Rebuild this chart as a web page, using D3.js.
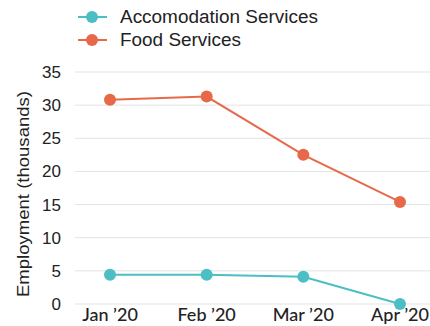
<!DOCTYPE html>
<html><head><meta charset="utf-8">
<script src="https://cdn.jsdelivr.net/npm/d3@7"></script>
<style>body{margin:0;background:#fff}svg{display:block}</style>
</head><body>
<svg id="c" width="430" height="326"></svg>
<script>
const months = ["Jan ’20","Feb ’20","Mar ’20","Apr ’20"];
const accomodation = [4.4, 4.4, 4.1, 0];
const food = [30.8, 31.3, 22.5, 15.4];
const yTicks = [0,5,10,15,20,25,30,35];
const seriesNames = ["Accomodation Services","Food Services"];
const colors = ["#4bbfc4","#e8694a"];

const svg = d3.select("#c");
const x = d3.scalePoint().domain(months).range([110, 400]);
const y = d3.scaleLinear().domain([0,35]).range([304, 72]);

// grid
svg.append("g").selectAll("line").data(yTicks).join("line")
  .attr("x1",75).attr("x2",430).attr("y1",d=>y(d)).attr("y2",d=>y(d))
  .attr("stroke","#e3e3e3").attr("stroke-width",1);

// y labels
svg.append("g").selectAll("text").data(yTicks).join("text")
  .attr("x",61).attr("y",d=>y(d)).attr("dy","0.35em").attr("text-anchor","end")
  .attr("font-family","Liberation Sans, Arial, sans-serif").attr("font-size",17).attr("fill","#222")
  .text(d=>d);

// x labels
svg.append("g").selectAll("text").data(months).join("text")
  .attr("x",d=>x(d)).attr("y",321).attr("text-anchor","middle")
  .attr("font-family","Lato, sans-serif").attr("font-size",18).attr("font-weight",500).attr("fill","#222")
  .text(d=>d);

// y title
svg.append("text").attr("transform","translate(29,194) rotate(-90)")
  .attr("text-anchor","middle").attr("font-family","Liberation Sans, Arial, sans-serif")
  .attr("font-size",17).attr("fill","#222")
  .attr("textLength",206).attr("lengthAdjust","spacingAndGlyphs")
  .text("Employment (thousands)");

const data = [accomodation, food];
const line = d3.line().x((d,i)=>x(months[i])).y(d=>y(d));
data.forEach((s,k)=>{
  svg.append("path").datum(s).attr("d",line).attr("fill","none")
    .attr("stroke",colors[k]).attr("stroke-width",2);
  svg.append("g").selectAll("circle").data(s).join("circle")
    .attr("cx",(d,i)=>x(months[i])).attr("cy",d=>y(d)).attr("r",6).attr("fill",colors[k]);
});

// legend
const legendLen = [198, 121];
const lg = svg.append("g").selectAll("g").data(seriesNames).join("g")
  .attr("transform",(d,i)=>`translate(0,${17+i*23})`);
lg.append("line").attr("x1",78).attr("x2",107).attr("stroke",(d,i)=>colors[i]).attr("stroke-width",2);
lg.append("circle").attr("cx",92).attr("r",6).attr("fill",(d,i)=>colors[i]);
lg.append("text").attr("x",120).attr("dy","0.35em").attr("font-family","Liberation Sans, Arial, sans-serif")
  .attr("font-size",18).attr("fill","#222")
  .attr("textLength",(d,i)=>legendLen[i]).attr("lengthAdjust","spacingAndGlyphs")
  .text(d=>d);
</script>
</body></html>
